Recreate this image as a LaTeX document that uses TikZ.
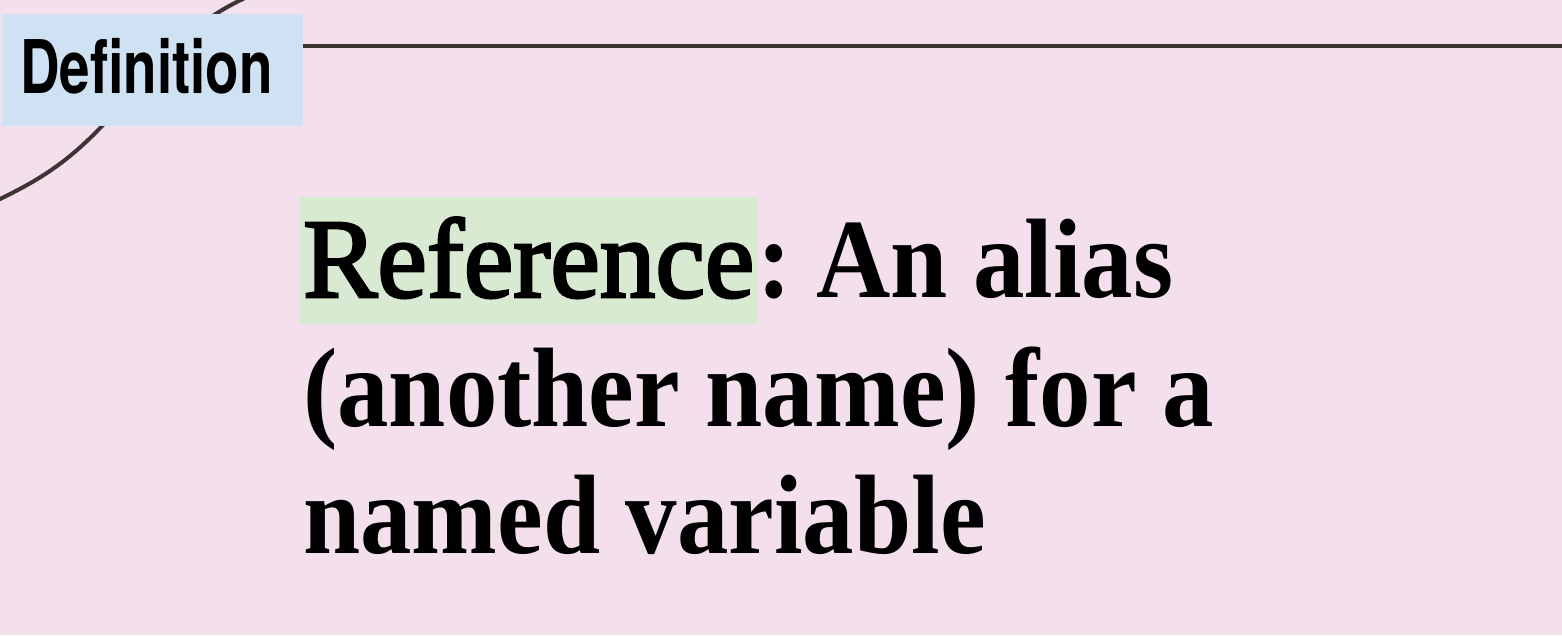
\documentclass[tikz,border=0pt]{standalone}
\usepackage{fontspec}
\usepackage{tikz}
\newfontfamily\labelfont[FakeStretch=0.74]{TeX Gyre Heros}
\newfontfamily\termfont[FakeStretch=0.985,FakeBold=2.5]{Liberation Serif}
\newfontfamily\bodyfont[FakeStretch=0.91]{Liberation Serif}
\definecolor{PageBg}{HTML}{F3E0EC}
\definecolor{DefBlue}{HTML}{CFE2F3}
\definecolor{TermGreen}{HTML}{D9EAD3}
\definecolor{InkLine}{HTML}{3D3434}
\tikzstyle{DefBox}=[rectangle, fill=DefBlue, inner xsep=18pt, inner ysep=0pt, text width=265pt, align=left, text height=79pt, text depth=33pt, font=\labelfont\bfseries\fontsize{74}{80}\selectfont]
\tikzstyle{TermNode}=[rectangle, fill=TermGreen, inner xsep=3pt, inner ysep=0pt, text height=100pt, text depth=27pt, font=\termfont\fontsize{113}{128}\selectfont]
\tikzstyle{BodyText}=[inner sep=0pt, font=\bodyfont\bfseries\fontsize{113}{128}\selectfont]
\tikzstyle{RuleEdge}=[draw=InkLine, line width=4.5pt]
\tikzstyle{ArcEdge}=[RuleEdge, line width=4pt]

\begin{document}
\begin{tikzpicture}[x=1pt,y=-1pt]
\useasboundingbox (0,0) rectangle (1562,635);
\fill[PageBg] (0,0) rectangle (1562,635);

% swoosh behind the label
\draw[ArcEdge] (245,-2) .. controls (180,28) and (150,75) .. (102,126)
  .. controls (65,165) and (35,182) .. (-2,200);

\node[DefBox, anchor=north west](DEF) at (2,14) {Definition};
\coordinate (RuleEnd) at (1562,46);
\draw[RuleEdge](DEF.north east |- RuleEnd) -- (RuleEnd);

\node[TermNode, anchor=base west](TERM) at (300,297) {Reference};
\node[BodyText, anchor=base west](LINE1) at (TERM.base east) {:\kern-10pt{} An alias};
\node[BodyText, anchor=base west](LINE2) at (303,426) {(another name) for a};
\node[BodyText, anchor=base west](LINE3) at (303,553) {named variable};
\end{tikzpicture}
\end{document}
